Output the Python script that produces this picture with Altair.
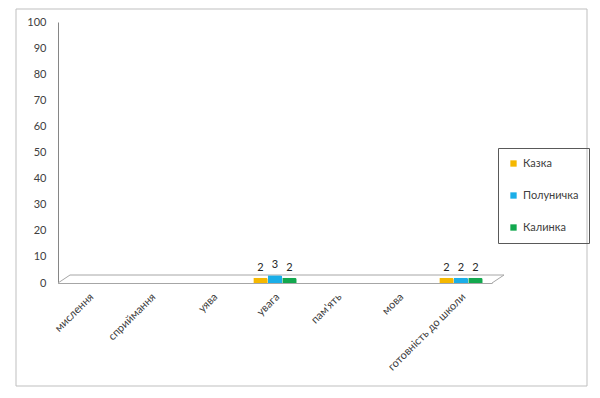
import altair as alt
import pandas as pd

categories = ["мислення", "сприймання", "уява", "увага", "пам'ять", "мова", "готовність до школи"]
series = ["Казка", "Полуничка", "Калинка"]
kazka = [0, 0, 0, 2, 0, 0, 2]
polunychka = [0, 0, 0, 3, 0, 0, 2]
kalynka = [0, 0, 0, 2, 0, 0, 2]
colors = ["#F5B800", "#1AAEE8", "#12A84E"]
y_ticks = list(range(0, 101, 10))

rows = []
for s, vals in zip(series, [kazka, polunychka, kalynka]):
    for c, v in zip(categories, vals):
        rows.append({"category": c, "series": s, "value": v})
df = pd.DataFrame(rows)

FONT = "Lato"
W, H = 434, 261

xenc = alt.X("category:N", sort=categories,
             scale=alt.Scale(domain=categories, paddingInner=0.3, paddingOuter=0.15),
             axis=alt.Axis(title=None, labelAngle=-45, labelAlign="right", labelBaseline="middle",
                           labelPadding=12, labelOffset=3, ticks=False, domainColor="#A6A6A6",
                           labelFont=FONT, labelFontSize=11, labelColor="#404040"))
xoff = alt.XOffset("series:N", sort=series, scale=alt.Scale(domain=series, paddingInner=0.0))
yenc = alt.Y("value:Q", scale=alt.Scale(domain=[0, 100]),
             axis=alt.Axis(values=y_ticks, title=None, grid=False, ticks=False,
                           domainColor="#868686", labelPadding=12, labelFont=FONT,
                           labelFontSize=11, labelColor="#404040"))

base = alt.Chart(df).transform_filter("datum.value > 0")

bars = base.mark_bar(cornerRadiusTopRight=2).encode(
    x=xenc, xOffset=xoff, y=yenc,
    color=alt.Color("series:N", sort=series, scale=alt.Scale(domain=series, range=colors),
                    legend=alt.Legend(title=None, orient="none", legendX=440, legendY=126,
                                      padding=10, rowPadding=20, strokeColor="#595959",
                                      symbolType="square", symbolSize=40, symbolStrokeWidth=0,
                                      labelFont=FONT, labelFontSize=11, labelColor="#404040",
                                      cornerRadius=0)),
)

labels = base.mark_text(baseline="bottom", dy=-5, fontSize=11, font=FONT, color="#262626").encode(
    x=xenc, xOffset=xoff, y=yenc, text="value:Q"
)

one = pd.DataFrame({"a": [0]})
frame = alt.Chart(one).mark_rect(fillOpacity=0, stroke="#BFBFBF", strokeWidth=1).encode(
    x=alt.value(-42), x2=alt.value(529), y=alt.value(-13), y2=alt.value(364))
floor_top = alt.Chart(one).mark_rule(color="#A6A6A6").encode(
    x=alt.value(12), x2=alt.value(446), y=alt.value(H - 8), y2=alt.value(H - 8))
floor_l = alt.Chart(one).mark_rule(color="#A6A6A6").encode(
    x=alt.value(0), x2=alt.value(12), y=alt.value(H), y2=alt.value(H - 8))
floor_r = alt.Chart(one).mark_rule(color="#A6A6A6").encode(
    x=alt.value(W), x2=alt.value(446), y=alt.value(H), y2=alt.value(H - 8))

chart = alt.layer(frame, floor_top, floor_l, floor_r, bars, labels).properties(
    width=W, height=H,
    background="white",
    autosize=alt.AutoSizeParams(type="none"),
    padding={"left": 50, "top": 14, "right": 100, "bottom": 107},
).configure_view(stroke=None)

chart.save("out.html", embed_options={"renderer": "svg", "actions": False})
